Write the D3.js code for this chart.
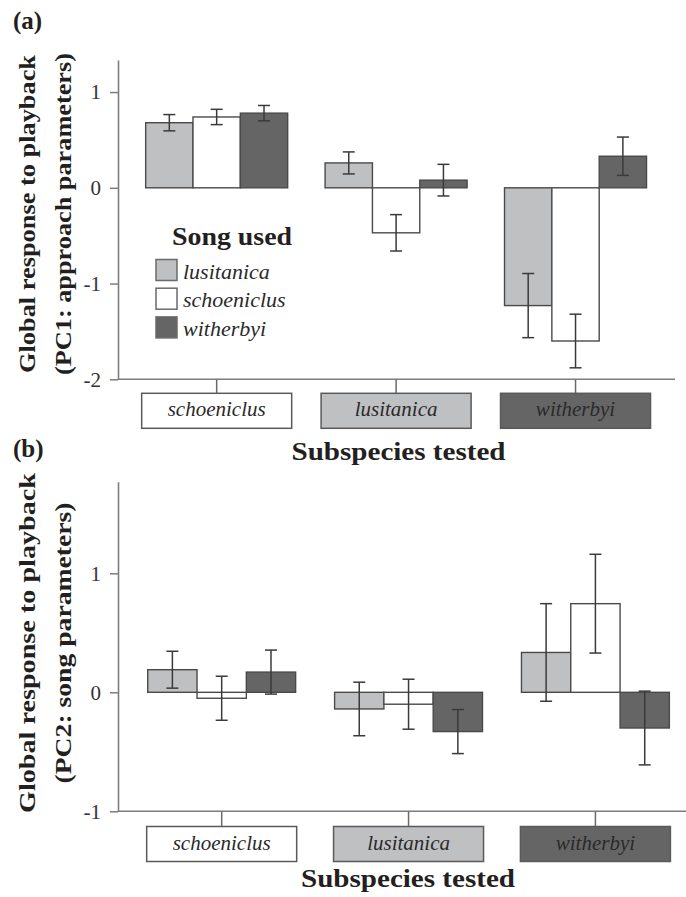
<!DOCTYPE html>
<html>
<head>
<meta charset="utf-8">
<script src="https://cdn.jsdelivr.net/npm/d3@7"></script>
<style>
  html, body { margin: 0; padding: 0; background: #fff; }
  svg { display: block; }
  text { fill: #231f20; }
</style>
</head>
<body>
<svg id="chart" width="686" height="897"></svg>
<script>
// Subspecies tested (x groups) and song used (bars within each group)
const subspeciesTested = ["schoeniclus", "lusitanica", "witherbyi"];
const songUsed = ["lusitanica", "schoeniclus", "witherbyi"];

// PC1: approach parameters — mean and SE, one row per subspecies tested
const pc1Mean = [
  [0.68, 0.74, 0.78],
  [0.26, -0.47, 0.08],
  [-1.23, -1.60, 0.33]
];
const pc1SE = [
  [0.085, 0.08, 0.08],
  [0.115, 0.19, 0.165],
  [0.335, 0.28, 0.20]
];

// PC2: song parameters — mean and SE
const pc2Mean = [
  [0.19, -0.05, 0.17],
  [-0.14, -0.10, -0.33],
  [0.335, 0.745, -0.30]
];
const pc2SE = [
  [0.155, 0.185, 0.185],
  [0.225, 0.21, 0.185],
  [0.41, 0.415, 0.31]
];

const pc1Ticks = [-2, -1, 0, 1];
const pc2Ticks = [-1, 0, 1];

const fills = { lusitanica: "#bfc0c2", schoeniclus: "#ffffff", witherbyi: "#656566" };
const SERIF = "'Liberation Serif', 'Times New Roman', serif";

const svg = d3.select("#chart");

function fitText(sel, len) {
  sel.attr("textLength", len).attr("lengthAdjust", "spacingAndGlyphs");
}

function panel(cfg) {
  const g = svg.append("g");
  const y = d3.scaleLinear().domain(cfg.yDomain).range(cfg.yRange);
  const x0 = d3.scaleBand().domain(subspeciesTested).range(cfg.xRange)
    .paddingInner(0.2085).paddingOuter(0.104);
  const x1 = d3.scaleBand().domain(songUsed).range([0, x0.bandwidth()]);
  const axisX = 118;
  const baseY = y(cfg.yDomain[0]);

  // y axis (plain hyphen for negative ticks)
  const ya = g.append("g").attr("transform", `translate(${axisX},0)`)
    .call(d3.axisLeft(y).tickValues(cfg.ticks).tickSize(8).tickSizeOuter(0).tickPadding(9)
      .tickFormat(d => String(d)));
  ya.select(".domain").attr("stroke", "#7d7d7d").attr("stroke-width", 1.6);
  ya.selectAll(".tick line").attr("stroke", "#7d7d7d").attr("stroke-width", 1.5);
  ya.selectAll(".tick text").attr("font-family", SERIF).attr("font-size", 21)
    .style("fill", "#333");

  // x baseline
  g.append("line").attr("x1", axisX).attr("x2", cfg.xLineEnd)
    .attr("y1", baseY).attr("y2", baseY)
    .attr("stroke", "#7d7d7d").attr("stroke-width", 1.6);

  // x ticks down to the category boxes
  const xa = g.append("g").attr("transform", `translate(0,${baseY})`)
    .call(d3.axisBottom(x0).tickSize(cfg.boxTop - baseY).tickSizeOuter(0).tickFormat(""));
  xa.select(".domain").remove();
  xa.selectAll(".tick line").attr("stroke", "#6a6a6a").attr("stroke-width", 1.5);

  // category boxes
  const boxW = 150, boxH = 35;
  const boxes = g.selectAll(".catbox").data(subspeciesTested).join("g")
    .attr("class", "catbox")
    .attr("transform", d => `translate(${x0(d) + x0.bandwidth() / 2},${cfg.boxTop})`);
  boxes.append("rect").attr("x", -boxW / 2).attr("y", 0).attr("width", boxW).attr("height", boxH)
    .attr("fill", d => fills[d]).attr("stroke", "#5a5a5a").attr("stroke-width", 1.5);
  boxes.append("text").attr("x", 0).attr("y", boxH - 12).attr("text-anchor", "middle")
    .attr("font-family", SERIF).attr("font-style", "italic").attr("font-size", 21)
    .style("fill", "#2a2a2a")
    .text(d => d);

  // bars
  const rows = [];
  subspeciesTested.forEach((s, i) => songUsed.forEach((song, j) => {
    rows.push({ s, song, mean: cfg.mean[i][j], se: cfg.se[i][j] });
  }));
  const bars = g.append("g");
  bars.selectAll("rect").data(rows).join("rect")
    .attr("x", d => x0(d.s) + x1(d.song))
    .attr("width", x1.bandwidth())
    .attr("y", d => y(Math.max(0, d.mean)))
    .attr("height", d => Math.abs(y(d.mean) - y(0)))
    .attr("fill", d => fills[d.song])
    .attr("stroke", "#4a4a4a").attr("stroke-width", 1.4);

  // error bars
  const eb = g.append("g").attr("stroke", "#3a3a3a").attr("stroke-width", 1.5);
  const cx = d => x0(d.s) + x1(d.song) + x1.bandwidth() / 2;
  eb.selectAll(".v").data(rows).join("line").attr("class", "v")
    .attr("x1", cx).attr("x2", cx)
    .attr("y1", d => y(d.mean + d.se)).attr("y2", d => y(d.mean - d.se));
  ["hi", "lo"].forEach(k => {
    eb.selectAll("." + k).data(rows).join("line").attr("class", k)
      .attr("x1", d => cx(d) - 6).attr("x2", d => cx(d) + 6)
      .attr("y1", d => y(k === "hi" ? d.mean + d.se : d.mean - d.se))
      .attr("y2", d => y(k === "hi" ? d.mean + d.se : d.mean - d.se));
  });

  // y-axis title (two lines)
  const mid = cfg.titleMid;
  const t1 = g.append("text").attr("transform", `translate(35,${mid}) rotate(-90)`)
    .attr("text-anchor", "middle").attr("font-family", SERIF).attr("font-weight", "bold")
    .attr("font-size", 24).text("Global response to playback");
  fitText(t1, cfg.title1Len);
  const t2 = g.append("text").attr("transform", `translate(71,${mid}) rotate(-90)`)
    .attr("text-anchor", "middle").attr("font-family", SERIF).attr("font-weight", "bold")
    .attr("font-size", 24).text(cfg.title2);
  fitText(t2, cfg.title2Len);

  // x-axis title
  const xt = g.append("text").attr("x", cfg.xTitleX).attr("y", cfg.xTitleY)
    .attr("text-anchor", "middle").attr("font-family", SERIF).attr("font-weight", "bold")
    .attr("font-size", 26).text("Subspecies tested");
  fitText(xt, 214);

  // panel letter
  g.append("text").attr("x", 13).attr("y", cfg.letterY)
    .attr("font-family", SERIF).attr("font-weight", "bold").attr("font-size", 25)
    .text(cfg.letter);

  return g;
}

const a = panel({
  yDomain: [-2, 1.335], yRange: [379.3, 60],
  xRange: [127, 665.2], xLineEnd: 675,
  ticks: pc1Ticks, mean: pc1Mean, se: pc1SE,
  boxTop: 393.3,
  titleMid: 214, title2: "(PC1: approach parameters)", title1Len: 318, title2Len: 322,
  xTitleX: 398.5, xTitleY: 460,
  letter: "(a)", letterY: 29
});

panel({
  yDomain: [-1, 1.77], yRange: [811.3, 481.7],
  xRange: [128.3, 688.8], xLineEnd: 686,
  ticks: pc2Ticks, mean: pc2Mean, se: pc2SE,
  boxTop: 826.5,
  titleMid: 643, title2: "(PC2: song parameters)", title1Len: 340, title2Len: 281,
  xTitleX: 408, xTitleY: 887,
  letter: "(b)", letterY: 457
});

// legend for the song used (panel a)
const legend = a.append("g");
const lt = legend.append("text").attr("x", 172).attr("y", 245)
  .attr("font-family", SERIF).attr("font-weight", "bold").attr("font-size", 25)
  .text("Song used");
fitText(lt, 120);
const li = legend.selectAll(".item").data(songUsed).join("g").attr("class", "item")
  .attr("transform", (d, i) => `translate(156,${259.5 + i * 28.7})`);
li.append("rect").attr("width", 21).attr("height", 21)
  .attr("fill", d => fills[d]).attr("stroke", "#6a6a6a").attr("stroke-width", 1.5);
li.append("text").attr("x", 27).attr("y", 19)
  .attr("font-family", SERIF).attr("font-style", "italic").attr("font-size", 22)
  .style("fill", "#2a2a2a").text(d => d);
</script>
</body>
</html>
